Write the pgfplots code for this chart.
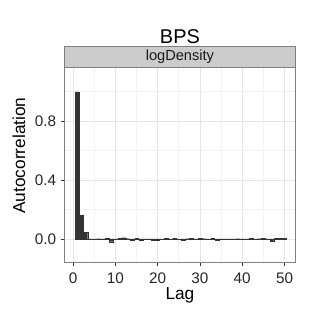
\documentclass[border=0pt]{standalone}
\usepackage{fontspec}
\setmainfont{Liberation Sans}
\usepackage{pgfplots}
\pgfplotsset{compat=1.18}
\usepackage{pgfplotstable}
\definecolor{gridmaj}{HTML}{E5E5E5}
\definecolor{gridmin}{HTML}{F2F2F2}
\definecolor{bord}{HTML}{7F7F7F}
\definecolor{stripfill}{HTML}{CCCCCC}
\definecolor{barfill}{HTML}{333333}
\pgfplotstableread{
lag acf
1 0.997
2 0.162
3 0.045
4 -0.003
5 -0.003
6 0.002
7 0.001
8 0.004
9 -0.018
10 0.001
11 0.003
12 0.009
13 0.002
14 -0.006
15 0.003
16 -0.008
17 0.001
18 0.001
19 -0.005
20 -0.006
21 0.001
22 0.003
23 -0.002
24 0.004
25 0.001
26 -0.004
27 0.002
28 0.003
29 0.001
30 0.005
31 0.002
32 -0.002
33 0.003
34 -0.007
35 0.001
36 -0.002
37 -0.001
38 -0.003
39 0.002
40 -0.003
41 -0.002
42 0.003
43 -0.002
44 0.002
45 0.003
46 -0.002
47 -0.012
48 0.004
49 0.005
50 0.004
}\acfdata
\begin{document}
\begin{tikzpicture}
\begin{axis}[
  at={(0,0)}, anchor=south west,
  scale only axis, width=173.25pt, height=146pt,
  xmin=-1.95, xmax=52.5, ymin=-0.155, ymax=1.16,
  axis line style={bord, line width=0.5pt},
  xtick={0,10,20,30,40,50},
  ytick={0,0.4,0.8},
  minor xtick={5,15,25,35,45},
  minor ytick={0.2,0.6,1.0},
  minor tick length=0pt,
  major tick length=3pt,
  tick align=outside,
  xtick pos=bottom, ytick pos=left,
  tick style={black!80, line width=0.5pt},
  grid=both,
  major grid style={gridmaj, line width=0.5pt},
  minor grid style={gridmin, line width=0.5pt},
  yticklabel style={/pgf/number format/fixed, /pgf/number format/fixed zerofill, /pgf/number format/precision=1},
  /pgf/number format/assume math mode=true,
  tick label style={font=\fontsize{11.5}{13}\selectfont, black!85},
  xticklabel shift=1.5pt,
  clip=false,
]
\addplot[ybar, bar width=0.9, fill=barfill, draw=barfill, line width=0.1pt] table[x=lag, y=acf] {\acfdata};
\draw[bord, fill=stripfill, line width=0.5pt] (rel axis cs:0,1) rectangle ([yshift=16.5pt]rel axis cs:1,1);
\node[font=\fontsize{11}{13}\selectfont, black!90] at ([yshift=8.25pt]rel axis cs:0.5,1) {logDensity};
\node[font=\fontsize{15}{18}\selectfont] at ([yshift=23.6pt]rel axis cs:0.5,1) {BPS};
\node[font=\fontsize{13}{15}\selectfont] at ([yshift=-25.5pt]rel axis cs:0.5,0) {Lag};
\node[font=\fontsize{13}{15}\selectfont, rotate=90] at ([xshift=-34.5pt, yshift=80pt]rel axis cs:0,0) {Autocorrelation};
\end{axis}
\pgfresetboundingbox
\path[use as bounding box] (-48.75pt,-42.2pt) rectangle (191.25pt,197pt);
\end{tikzpicture}
\end{document}
